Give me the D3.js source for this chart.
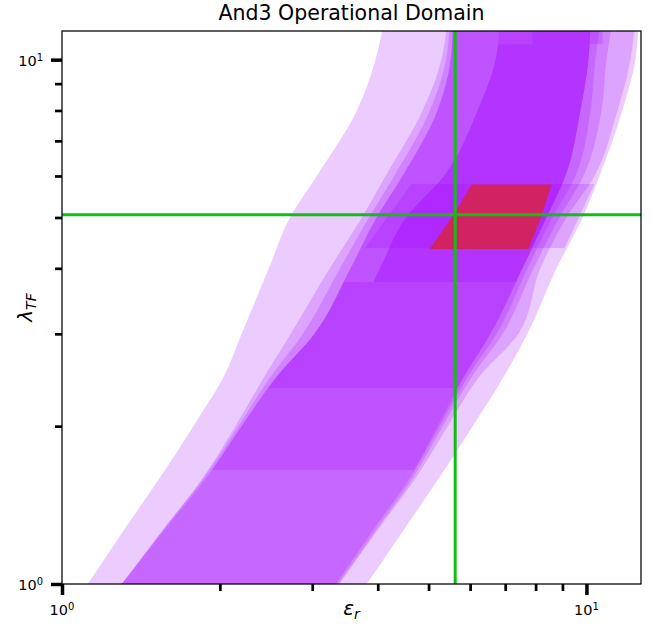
<!DOCTYPE html>
<html>
<head>
<meta charset="utf-8">
<script src="https://cdn.jsdelivr.net/npm/d3@7"></script>
<style>
  body { margin: 0; background: #fff; }
  text { font-family: "DejaVu Sans", sans-serif; fill: #000; }
</style>
</head>
<body>
<div id="chart"></div>
<script>

// lambda_TF knots shared by the full-height bands
var lamKnots = [1, 1.25, 1.6, 2, 2.5, 3, 4, 5, 6, 8, 10, 11.5]

// eps_r limits of each band at those knots
var outerLo = [1.12, 1.30, 1.54, 1.78, 2.04, 2.20, 2.48, 2.72, 3.06, 3.65, 3.96, 4.09]
var outerHi = [3.81, 4.44, 5.25, 6.07, 6.98, 7.72, 8.77, 9.83, 10.59, 11.71, 12.40, 12.56]
var edgeLo1 = [1.30, 1.54, 1.86, 2.14, 2.44, 2.73, 3.24, 3.73, 4.14, 4.87, 5.29, 5.41]
var edgeHi1 = [3.38, 3.96, 4.74, 5.44, 6.28, 7.42, 8.17, 9.16, 10.36, 11.46, 12.13, 12.34]
var edgeLo2 = [1.30, 1.54, 1.87, 2.17, 2.51, 2.88, 3.39, 3.85, 4.30, 5.03, 5.40, 5.48]
var edgeHi2 = [3.36, 3.93, 4.68, 5.32, 6.07, 6.92, 7.93, 8.88, 9.87, 10.68, 10.92, 11.16]
var bodyLo = [1.30, 1.55, 1.89, 2.20, 2.58, 3.03, 3.55, 3.98, 4.46, 5.20, 5.51, 5.56]
var bodyHi = [3.33, 3.88, 4.62, 5.25, 5.96, 6.74, 7.72, 8.61, 9.53, 10.18, 10.40, 10.59]
var coreLo = [1.47, 1.75, 2.14, 2.49, 2.97, 3.51, 4.04, 4.53, 5.35, 6.20, 6.71, 6.83]
var coreHi = [3.31, 3.86, 4.60, 5.20, 5.86, 6.56, 7.55, 8.39, 9.12, 9.74, 10.09, 10.18]

// short bands with their own knots
var stripLam = [4.37, 5.79]
var stripLo = [3.78, 4.64]
var stripHi = [9.08, 10.36]

var topLam = [10.7, 11.5]
var topLo = [7.89, 7.89]
var topHi = [10.73, 10.73]

// overlap of all conditions
var redLam = [4.35, 5.03, 5.78]
var redLo = [5.02, 5.56, 6.04]
var redHi = [7.75, 8.21, 8.58]

// operating point
var eps0 = 5.62
var lam0 = 5.06

var xMajorTicks = [1, 10]
var xMinorTicks = [2, 3, 4, 5, 6, 7, 8, 9]
var yMajorTicks = [1, 10]
var yMinorTicks = [2, 3, 4, 5, 6, 7, 8, 9]

var lamTop = 11.5

var layers = [
    { lam: lamKnots, lo: outerLo, hi: outerHi, range: [1, lamTop] },
    { lam: lamKnots, lo: edgeLo1, hi: edgeHi1, range: [1, lamTop] },
    { lam: lamKnots, lo: edgeLo2, hi: edgeHi2, range: [1, lamTop] },
    { lam: lamKnots, lo: bodyLo, hi: bodyHi, range: [1, lamTop] },
    { lam: lamKnots, lo: bodyLo, hi: coreHi, range: [1.65, lamTop] },
    { lam: lamKnots, lo: bodyLo, hi: coreHi, range: [2.365, 3.767] },
    { lam: lamKnots, lo: coreLo, hi: coreHi, range: [3.767, lamTop] },
    { lam: lamKnots, lo: coreLo, hi: coreHi, range: [3.767, 10.7] },
    { lam: topLam, lo: topLo, hi: topHi, range: [10.7, lamTop] },
    { lam: stripLam, lo: stripLo, hi: stripHi, range: [4.37, 5.79] }
]

var W = 653, H = 627
var pL = 62, pR = 641, pT = 31, pB = 584

var x = d3.scaleLog().domain([1, 12.707]).range([pL, pR])
var y = d3.scaleLog().domain([1, 11.34]).range([pB, pT])

var svg = d3.select("#chart").append("svg")
    .attr("width", W)
    .attr("height", H)

var defs = svg.append("defs")

defs.append("clipPath").attr("id", "plotArea")
    .append("rect")
    .attr("x", pL).attr("y", pT)
    .attr("width", pR - pL).attr("height", pB - pT)

var plot = svg.append("g").attr("clip-path", "url(#plotArea)")

var area = d3.area()
    .x0(function(d) { return x(d[1]) })
    .x1(function(d) { return x(d[2]) })
    .y(function(d) { return y(d[0]) })
    .curve(d3.curveMonotoneY)

layers.forEach(function(layer, i) {

    var id = "band" + i

    defs.append("clipPath").attr("id", id)
        .append("rect")
        .attr("x", pL)
        .attr("width", pR - pL)
        .attr("y", y(layer.range[1]))
        .attr("height", y(layer.range[0]) - y(layer.range[1]))

    plot.append("path")
        .attr("d", area(d3.zip(layer.lam, layer.lo, layer.hi)))
        .attr("clip-path", "url(#" + id + ")")
        .style("fill", "#a000ff")
        .style("fill-opacity", 0.2)

})

plot.append("path")
    .attr("d", area.curve(d3.curveLinear)(d3.zip(redLam, redLo, redHi)))
    .style("fill", "#d12361")

plot.append("line")
    .attr("x1", x(eps0)).attr("x2", x(eps0))
    .attr("y1", pT).attr("y2", pB)
    .style("stroke", "#10c010")
    .style("stroke-width", 3)

plot.append("line")
    .attr("x1", pL).attr("x2", pR)
    .attr("y1", y(lam0)).attr("y2", y(lam0))
    .style("stroke", "#10c010")
    .style("stroke-width", 3)

// axes
function styleTicks(g, w) {
    g.select(".domain").remove()
    g.selectAll(".tick line").style("stroke", "#000").style("stroke-width", w)
}

svg.append("g").attr("transform", "translate(0," + pB + ")")
    .call(d3.axisBottom(x).tickValues(xMajorTicks).tickSize(11).tickFormat(""))
    .call(styleTicks, 3.5)

svg.append("g").attr("transform", "translate(0," + pB + ")")
    .call(d3.axisBottom(x).tickValues(xMinorTicks).tickSize(7).tickFormat(""))
    .call(styleTicks, 2.7)

svg.append("g").attr("transform", "translate(" + pL + ",0)")
    .call(d3.axisLeft(y).tickValues(yMajorTicks).tickSize(11).tickFormat(""))
    .call(styleTicks, 3.5)

svg.append("g").attr("transform", "translate(" + pL + ",0)")
    .call(d3.axisLeft(y).tickValues(yMinorTicks).tickSize(7).tickFormat(""))
    .call(styleTicks, 2.7)

function powerLabel(sel, v) {
    sel.append("tspan").text("10")
    sel.append("tspan")
        .attr("dy", "-0.5em")
        .style("font-size", "10px")
        .text(Math.round(Math.log10(v)))
}

xMajorTicks.forEach(function(v) {
    svg.append("text")
        .attr("x", x(v))
        .attr("y", 615)
        .attr("text-anchor", "middle")
        .style("font-size", "14.5px")
        .call(powerLabel, v)
})

yMajorTicks.forEach(function(v) {
    svg.append("text")
        .attr("x", 43)
        .attr("y", y(v) + 6)
        .attr("text-anchor", "end")
        .style("font-size", "14.5px")
        .call(powerLabel, v)
})

// frame
svg.append("rect")
    .attr("x", pL).attr("y", pT)
    .attr("width", pR - pL).attr("height", pB - pT)
    .style("fill", "none")
    .style("stroke", "#000")
    .style("stroke-width", 1.25)

// labels
svg.append("text")
    .attr("x", (pL + pR) / 2)
    .attr("y", 20)
    .attr("text-anchor", "middle")
    .style("font-size", "20.5px")
    .text("And3 Operational Domain")

var xl = svg.append("text")
    .attr("x", (pL + pR) / 2)
    .attr("y", 615)
    .attr("text-anchor", "middle")
    .style("font-size", "20px")
    .style("font-style", "italic")
xl.append("tspan").text("ε")
xl.append("tspan").attr("dy", "0.3em").style("font-size", "14px").text("r")

var yl = svg.append("text")
    .attr("transform", "translate(32," + (pT + pB) / 2 + ") rotate(-90)")
    .attr("text-anchor", "middle")
    .style("font-size", "20px")
    .style("font-style", "italic")
yl.append("tspan").text("λ")
yl.append("tspan").attr("dy", "0.3em").style("font-size", "14px").text("TF")

</script>
</body>
</html>
